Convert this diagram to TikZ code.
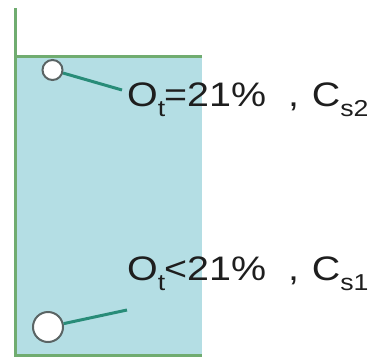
\documentclass[tikz,border=0pt]{standalone}
\usepackage{fontspec}
\usepackage{graphicx}
\setmainfont{Liberation Sans}
\definecolor{wallgreen}{RGB}{112,172,112}
\definecolor{water}{RGB}{180,222,228}
\definecolor{probe}{RGB}{40,140,120}
\definecolor{ring}{RGB}{90,100,100}
\definecolor{txt}{RGB}{30,30,30}
\newcommand{\lowsub}[1]{\raisebox{-0.3em}{\fontsize{23}{24}\selectfont #1}}
\tikzset{
  wall/.style={draw=wallgreen,line width=3pt},
  sensor/.style={circle,draw=ring,fill=white,line width=2pt,inner sep=0pt},
  cable/.style={draw=probe,line width=3pt},
  lbl/.style={anchor=base west,inner sep=0pt,text=txt,font=\fontsize{34}{36}\selectfont}
}
\begin{document}
\begin{tikzpicture}[x=1pt,y=-1pt]
\useasboundingbox (0,0) rectangle (373,362);
\fill[water] (15,56) rectangle (202,355);
\draw[wall] (202,56) -- (15,56);
\draw[wall] (15,8) -- (15,355) -- (202,355);
\node[sensor,minimum size=20pt] (s2) at (52.5,70) {};
\node[sensor,minimum size=30pt] (s1) at (48,327) {};
\coordinate (e2) at (122,90);
\coordinate (e1) at (127,310);
\draw[cable] (s2) -- (e2);
\draw[cable] (s1) -- (e1);
\node[lbl] (t2) at (127,106) {\scalebox{1.16}[1]{O\lowsub{t}\kern-1pt=21\%\hspace{19pt},\hspace{11pt}C\lowsub{s2}}};
\node[lbl] (t1) at (127,280) {\scalebox{1.16}[1]{O\lowsub{t}\kern-1pt<21\%\hspace{19pt},\hspace{11pt}C\lowsub{s1}}};
\end{tikzpicture}
\end{document}
